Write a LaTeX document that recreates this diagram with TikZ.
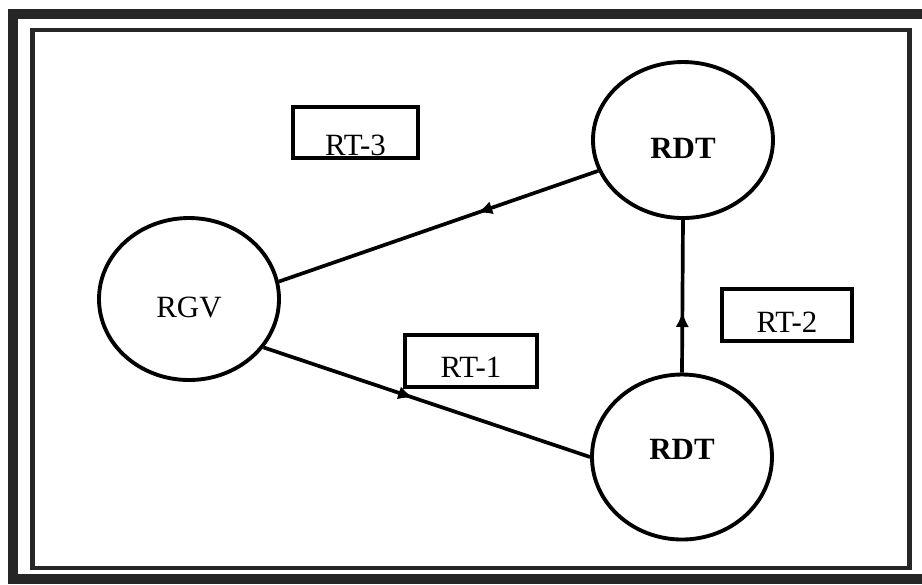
\documentclass[tikz,border=0pt]{standalone}
\usepackage{fontspec}
\setmainfont{Liberation Serif}
\usetikzlibrary{shapes.geometric,arrows.meta,decorations.markings}

\tikzset{midarrow/.style={decoration={markings,
      mark=at position #1 with {\arrow{Latex[length=4.4pt,width=3.8pt]}}},
    postaction={decorate}}}

\begin{document}
\begin{tikzpicture}[x=0.1mm, y=0.1mm]
			\tikzstyle{every node}+=[inner sep=0pt]
			\tikzstyle{station}=[draw=black, ellipse, line width=1.1pt, minimum width=1.8cm, font=\fontsize{8.8}{10}\selectfont]
			\tikzstyle{route}=[draw=black, rectangle, line width=1.1pt, minimum width=1.3cm, minimum height=0.52cm, font=\fontsize{8.8}{10}\selectfont]
			\tikzstyle{flow}=[black, line width=1.05pt]
			\useasboundingbox (0,0) rectangle (922,-584);
			\fill [white] (0,0) rectangle (922,-584);
			% frames
			\draw [black!85, line width=3.1pt] (13,-14) rectangle (928,-579);
			\draw [black!85, line width=1.4pt] (32.5,-30) rectangle (909.5,-568);
			% stations
			\node [station, minimum height=1.62cm, text height=0.36cm, text depth=0cm] (rgv) at (189,-299) {RGV};
			\node [station, minimum height=1.56cm, text height=0.36cm, text depth=0cm, font=\fontsize{8.8}{10}\selectfont\bfseries] (rdtA) at (683,-140) {RDT};
			\node [station, minimum height=1.65cm, text height=0.22cm, text depth=0.18cm, font=\fontsize{8.8}{10}\selectfont\bfseries] (rdtB) at (682,-457) {RDT};
			% routes
			\node [route, minimum width=1.25cm, minimum height=0.51cm, text height=0.46cm, text depth=0.01cm] (rt3) at (355.5,-132.5) {RT-3};
			\node [route, minimum width=1.32cm, text height=0.33cm, text depth=0.01cm] (rt1) at (471,-361) {RT-1};
			\node [route, text height=0.35cm, text depth=0.01cm] (rt2) at (787,-315) {RT-2};
			% connectors
			\draw [flow, midarrow=0.38] (rdtA.200) -- (rgv.11);
			\draw [flow, midarrow=0.46] (rgv.-33) -- (rdtB.180);
			\draw [flow, midarrow=0.4] (rdtB.north) -- (rdtA.south);
\end{tikzpicture}
\end{document}
